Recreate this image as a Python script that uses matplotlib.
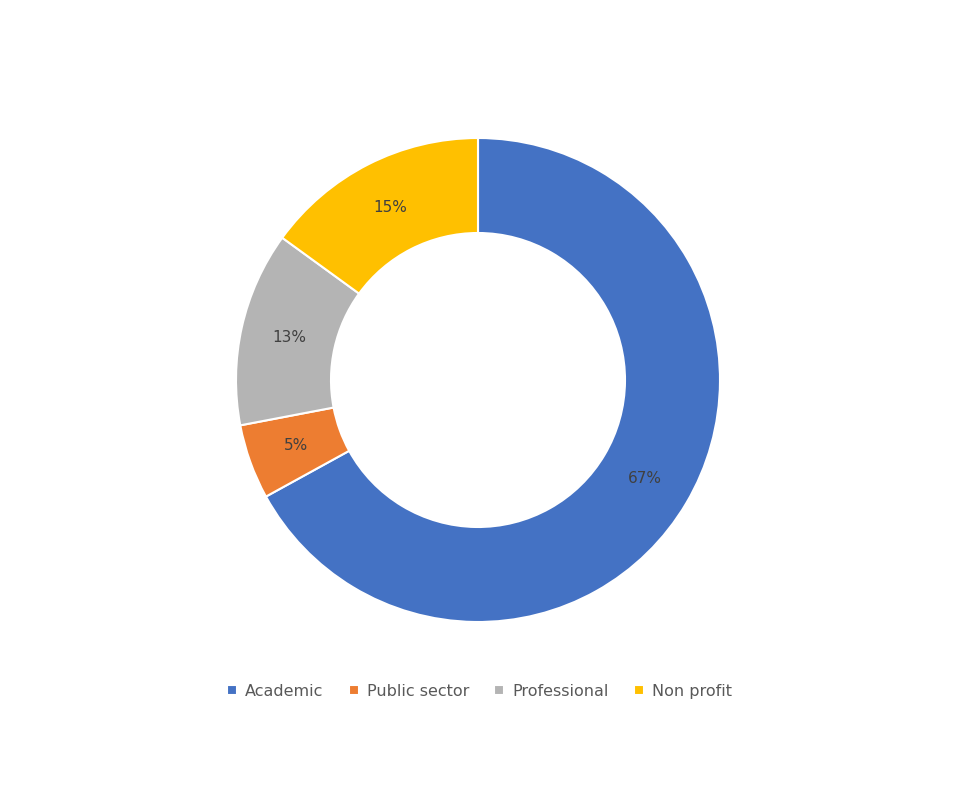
import matplotlib.pyplot as plt
from matplotlib.patches import Rectangle

categories = ["Academic", "Public sector", "Professional", "Non profit"]
values = [67, 5, 13, 15]
colors = ["#4472C4", "#ED7D31", "#A5A5A5", "#FFC000"]
colors[2] = "#B4B4B4"

fig = plt.figure(figsize=(9.59, 8), dpi=100)
R = 242
cx, cy = 478, 380
ax = fig.add_axes([(cx - R) / 959, (800 - cy - R) / 800, 2 * R / 959, 2 * R / 800])
wedges, _ = ax.pie(values, colors=colors, startangle=90, counterclock=False,
                   radius=1, wedgeprops=dict(width=95 / 242, edgecolor="white", linewidth=1.5))
import numpy as np
ang = 90
for v in values:
    mid = ang - v / 100 * 360 / 2
    ang -= v / 100 * 360
    r = 0.80
    ax.text(r * np.cos(np.radians(mid)), r * np.sin(np.radians(mid)), f"{v}%",
            ha="center", va="center", fontsize=11, color="#404040")
ax.set_xlim(-1, 1); ax.set_ylim(-1, 1)
ax.set_aspect("equal")

leg = fig.legend(wedges, categories, loc="center", bbox_to_anchor=(0.5, 0.136), ncol=4,
                 frameon=False, fontsize=11.5, handlelength=0.6, handleheight=0.6,
                 handletextpad=0.5, columnspacing=1.6, labelcolor="#595959")
fig.savefig("out.png", dpi=100)
